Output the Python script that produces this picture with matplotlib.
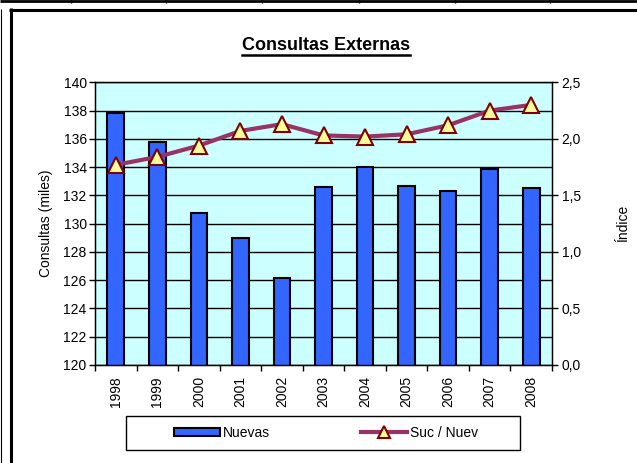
import matplotlib
matplotlib.use("Agg")
import matplotlib.pyplot as plt
import numpy as np
from matplotlib.lines import Line2D
from matplotlib.patches import Rectangle
from matplotlib.ticker import FuncFormatter, FixedLocator

plt.rcParams['font.family'] = ['Liberation Sans', 'DejaVu Sans']

# data
years = ["1998", "1999", "2000", "2001", "2002", "2003", "2004", "2005", "2006", "2007", "2008"]
nuevas = [137.85, 135.78, 130.73, 129.0, 126.13, 132.57, 134.03, 132.66, 132.33, 133.84, 132.5]
suc_nuev = [1.77, 1.84, 1.94, 2.07, 2.13, 2.03, 2.02, 2.04, 2.12, 2.25, 2.30]

W, H = 637, 463
fig = plt.figure(figsize=(W / 100, H / 100), dpi=100)

def fx(x):
    return x / W

def fy(y):
    return 1 - y / H

# decorative frame bits (cropped sheet borders)
def fline(xs, ys, lw):
    fig.add_artist(Line2D([fx(v) for v in xs], [fy(v) for v in ys], color="black",
                          lw=lw, transform=fig.transFigure, solid_capstyle="butt"))

fline([0, W], [1, 1], 2.0)
for xv in [71, 166, 262, 359, 455, 550]:
    fline([xv, xv], [0, 3], 1.0)
fline([9, W], [9.5, 9.5], 2.2)
fline([1.5, 1.5], [9, H], 0.8)
fline([10.5, 10.5], [8, H], 2.2)

ax = fig.add_axes([fx(95), fy(365), (552 - 95) / W, (365 - 82.3) / H])
ax.set_facecolor("#CCFFFF")
x = np.arange(len(years))
ax.bar(x, nuevas, width=0.4, color="#3366FF", edgecolor="black", linewidth=1.5, zorder=2)
ax.set_ylim(120, 140)
ax.set_yticks(np.arange(120, 141, 2))
ax.set_xlim(-0.5, len(years) - 0.5)
ax.set_xticks(x)
ax.set_xticklabels(years, rotation=90)
ax.xaxis.set_minor_locator(FixedLocator(np.arange(-0.5, len(years), 1.0)))
ax.tick_params(axis="x", which="major", length=0, pad=8, labelsize=10)
ax.tick_params(axis="x", which="minor", length=4, width=1, direction="out")
ax.tick_params(axis="y", length=4, width=1, direction="out", labelsize=10, pad=2)
ax.yaxis.grid(True, color="black", lw=1)
ax.set_axisbelow(True)
for s in ax.spines.values():
    s.set_color("black")
    s.set_linewidth(1)
ax.set_ylabel("Consultas (miles)", fontsize=10)
ax.yaxis.set_label_coords(-0.092, 0.5)

ax2 = ax.twinx()
ax2.plot(x, suc_nuev, color="#993366", lw=3, marker="^", markersize=12,
         markerfacecolor="#FFFF99", markeredgecolor="#800000", markeredgewidth=1.5,
         zorder=3)
ax2.set_ylim(0, 2.5)
ax2.set_yticks(np.arange(0, 2.51, 0.5))
ax2.yaxis.set_major_formatter(FuncFormatter(lambda v, p: f"{v:.1f}".replace(".", ",")))
ax2.tick_params(axis="y", length=4, width=1, direction="out", labelsize=10, pad=3)
ax2.set_ylabel("Índice", fontsize=10)
ax2.yaxis.set_label_coords(1.14, 0.5)

# title with underline
t = fig.text(fx(326), fy(45), "Consultas Externas", ha="center", va="center",
             fontsize=13, fontweight="bold")
r = fig.canvas.get_renderer()
bb = t.get_window_extent(renderer=r)
fig.add_artist(Line2D([bb.x0 / W, bb.x1 / W], [(bb.y0 - 1.5) / H, (bb.y0 - 1.5) / H],
                      color="black", lw=1.8, transform=fig.transFigure))

# legend
fig.add_artist(Rectangle((fx(126), fy(450)), (520 - 126) / W, 34 / H, fill=False,
                         edgecolor="black", lw=1, transform=fig.transFigure))
bar_h = Rectangle((0, 0), 1, 1, facecolor="#3366FF", edgecolor="black", lw=1.5)
line_h = Line2D([], [], color="#993366", lw=3, marker="^", markersize=8,
                markerfacecolor="#FFFF99", markeredgecolor="#800000", markeredgewidth=1.5)
fig.legend([bar_h, line_h], ["Nuevas", "Suc / Nuev"], loc="center",
           bbox_to_anchor=(fx(326), fy(433)), ncol=2, frameon=False, fontsize=10,
           handlelength=3.3, handleheight=0.55, handletextpad=0.2, columnspacing=6.6)

fig.savefig("out.png", dpi=100)
